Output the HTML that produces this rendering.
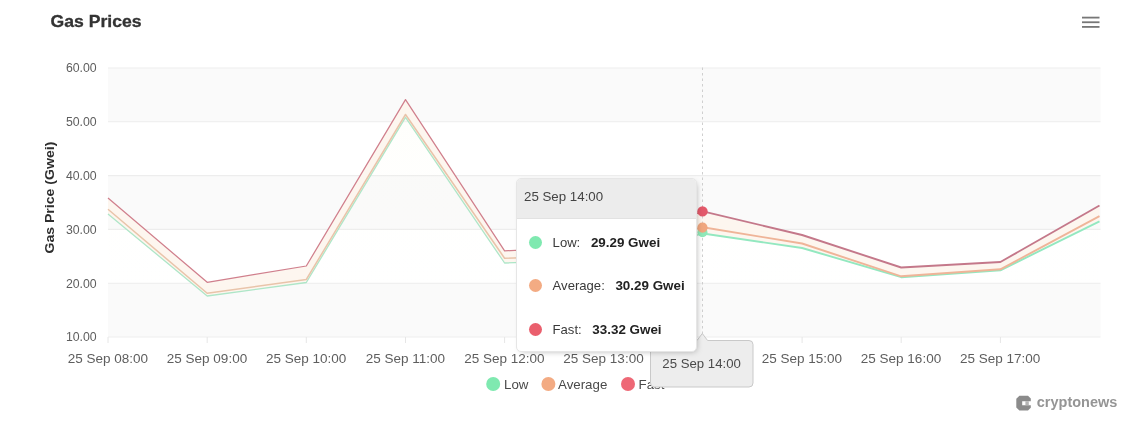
<!DOCTYPE html>
<html><head><meta charset="utf-8"><title>Gas Prices</title>
<style>
html,body{margin:0;padding:0;background:#fff;}
body{width:1140px;height:432px;position:relative;overflow:hidden;filter:blur(0.6px);font-family:"Liberation Sans",sans-serif;}
svg text{font-family:"Liberation Sans",sans-serif;}
.tip{position:absolute;left:516px;top:177.5px;width:181px;height:174.5px;background:#fff;border:1px solid #e6e6e6;border-radius:5px;box-shadow:2px 2px 6px -3px rgba(0,0,0,.35);box-sizing:border-box;overflow:hidden;color:#3a3a3a;font-size:13.1px;}
.tip .hd{height:39px;line-height:36px;background:#ececec;border-bottom:1px solid #e2e2e2;padding-left:7px;color:#444;font-size:13.3px;}
.tip .row{position:absolute;left:0;height:20px;line-height:20px;white-space:nowrap;}
.tip .dot{position:absolute;left:12px;top:3.5px;width:13px;height:13px;border-radius:50%;}
.tip .lb{position:absolute;left:35.6px;top:0;}
.tip b{font-weight:bold;color:#222;margin-left:7px;font-size:13.4px;}
</style></head><body>
<svg width="1140" height="432" viewBox="0 0 1140 432" style="position:absolute;left:0;top:0">
<defs><linearGradient id="gg" x1="0" y1="0" x2="0" y2="1"><stop offset="0" stop-color="#f6f3cf" stop-opacity="0.07"/><stop offset="1" stop-color="#ffffff" stop-opacity="0"/></linearGradient></defs>
<rect x="108.0" y="68.0" width="992.5" height="53.8" fill="#fafafa"/>
<rect x="108.0" y="175.6" width="992.5" height="53.8" fill="#fafafa"/>
<rect x="108.0" y="283.2" width="992.5" height="53.8" fill="#fafafa"/>
<line x1="108.0" x2="1100.5" y1="68.0" y2="68.0" stroke="#ededed" stroke-width="1.1"/>
<line x1="108.0" x2="1100.5" y1="121.8" y2="121.8" stroke="#ededed" stroke-width="1.1"/>
<line x1="108.0" x2="1100.5" y1="175.6" y2="175.6" stroke="#ededed" stroke-width="1.1"/>
<line x1="108.0" x2="1100.5" y1="229.4" y2="229.4" stroke="#ededed" stroke-width="1.1"/>
<line x1="108.0" x2="1100.5" y1="283.2" y2="283.2" stroke="#ededed" stroke-width="1.1"/>
<line x1="108.0" x2="1100.5" y1="337.0" y2="337.0" stroke="#ededed" stroke-width="1.1"/>
<line x1="108.0" x2="108.0" y1="337" y2="343" stroke="#e6e6e6" stroke-width="1"/>
<line x1="207.2" x2="207.2" y1="337" y2="343" stroke="#e6e6e6" stroke-width="1"/>
<line x1="306.3" x2="306.3" y1="337" y2="343" stroke="#e6e6e6" stroke-width="1"/>
<line x1="405.5" x2="405.5" y1="337" y2="343" stroke="#e6e6e6" stroke-width="1"/>
<line x1="504.6" x2="504.6" y1="337" y2="343" stroke="#e6e6e6" stroke-width="1"/>
<line x1="603.8" x2="603.8" y1="337" y2="343" stroke="#e6e6e6" stroke-width="1"/>
<line x1="702.9" x2="702.9" y1="337" y2="343" stroke="#e6e6e6" stroke-width="1"/>
<line x1="802.1" x2="802.1" y1="337" y2="343" stroke="#e6e6e6" stroke-width="1"/>
<line x1="901.2" x2="901.2" y1="337" y2="343" stroke="#e6e6e6" stroke-width="1"/>
<line x1="1000.4" x2="1000.4" y1="337" y2="343" stroke="#e6e6e6" stroke-width="1"/>
<text x="96.7" y="72.3" text-anchor="end" font-size="12.3" fill="#5e5e5e">60.00</text>
<text x="96.7" y="126.1" text-anchor="end" font-size="12.3" fill="#5e5e5e">50.00</text>
<text x="96.7" y="179.9" text-anchor="end" font-size="12.3" fill="#5e5e5e">40.00</text>
<text x="96.7" y="233.7" text-anchor="end" font-size="12.3" fill="#5e5e5e">30.00</text>
<text x="96.7" y="287.5" text-anchor="end" font-size="12.3" fill="#5e5e5e">20.00</text>
<text x="96.7" y="341.3" text-anchor="end" font-size="12.3" fill="#5e5e5e">10.00</text>
<text x="107.8" y="363" text-anchor="middle" font-size="13.5" fill="#5e5e5e">25 Sep 08:00</text>
<text x="207.0" y="363" text-anchor="middle" font-size="13.5" fill="#5e5e5e">25 Sep 09:00</text>
<text x="306.1" y="363" text-anchor="middle" font-size="13.5" fill="#5e5e5e">25 Sep 10:00</text>
<text x="405.3" y="363" text-anchor="middle" font-size="13.5" fill="#5e5e5e">25 Sep 11:00</text>
<text x="504.4" y="363" text-anchor="middle" font-size="13.5" fill="#5e5e5e">25 Sep 12:00</text>
<text x="603.5" y="363" text-anchor="middle" font-size="13.5" fill="#5e5e5e">25 Sep 13:00</text>
<text x="801.9" y="363" text-anchor="middle" font-size="13.5" fill="#5e5e5e">25 Sep 15:00</text>
<text x="901.0" y="363" text-anchor="middle" font-size="13.5" fill="#5e5e5e">25 Sep 16:00</text>
<text x="1000.1" y="363" text-anchor="middle" font-size="13.5" fill="#5e5e5e">25 Sep 17:00</text>
<polygon points="108.0,214.0 207.2,296.0 306.3,282.5 405.5,117.3 504.6,263.0 603.8,260.0 702.9,233.5 802.1,248.0 901.2,277.2 1000.4,270.3 1099.5,221.3 1099.5,337 108.0,337" fill="url(#gg)"/>
<polygon points="108.0,198.0 207.2,282.3 306.3,266.0 405.5,99.6 504.6,250.9 603.8,245.5 702.9,211.3 802.1,235.0 901.2,267.5 1000.4,262.0 1099.5,205.5 1099.5,221.3 1000.4,270.3 901.2,277.2 802.1,248.0 702.9,233.5 603.8,260.0 504.6,263.0 405.5,117.3 306.3,282.5 207.2,296.0 108.0,214.0" fill="#fdf6ef"/>
<polyline points="108.0,214.0 207.2,296.0 306.3,282.5 405.5,117.3 504.6,263.0 603.8,260.0 702.9,233.5" fill="none" stroke="#aee6c8" stroke-width="1.3" stroke-linejoin="round"/>
<polyline points="702.9,233.5 802.1,248.0 901.2,277.2 1000.4,270.3 1099.5,221.3" fill="none" stroke="#93e8c0" stroke-width="1.9" stroke-linejoin="round"/>
<polyline points="108.0,209.3 207.2,293.3 306.3,279.5 405.5,114.5 504.6,258.3 603.8,255.0 702.9,227.3" fill="none" stroke="#e9c4aa" stroke-width="1.5" stroke-linejoin="round"/>
<polyline points="702.9,227.3 802.1,243.5 901.2,276.3 1000.4,269.3 1099.5,216.2" fill="none" stroke="#efb498" stroke-width="1.9" stroke-linejoin="round"/>
<polyline points="108.0,198.0 207.2,282.3 306.3,266.0 405.5,99.6 504.6,250.9 603.8,245.5 702.9,211.3" fill="none" stroke="#d07f8c" stroke-width="1.25" stroke-linejoin="round"/>
<polyline points="702.9,211.3 802.1,235.0 901.2,267.5 1000.4,262.0 1099.5,205.5" fill="none" stroke="#c4788a" stroke-width="1.9" stroke-linejoin="round"/>
<line x1="702.5" x2="702.5" y1="67.5" y2="337" stroke="#cfcfcf" stroke-width="1" stroke-dasharray="2.5,3"/>
<circle cx="702.5" cy="232.2" r="5" fill="#8fe8b8"/>
<circle cx="702.5" cy="227.6" r="5.1" fill="#f0a67e"/>
<circle cx="702.5" cy="211.4" r="5.2" fill="#e3596a"/>
<text x="50.5" y="26.6" font-size="16.5" font-weight="bold" fill="#333" stroke="#333" stroke-width="0.3" textLength="91" lengthAdjust="spacingAndGlyphs">Gas Prices</text>
<text transform="translate(54.3,197.6) rotate(-90)" text-anchor="middle" font-size="12" font-weight="bold" fill="#2e2e2e" textLength="112" lengthAdjust="spacingAndGlyphs">Gas Price (Gwei)</text>
<rect x="1082" y="16.700000000000003" width="17.5" height="1.8" fill="#777"/>
<rect x="1082" y="21.35" width="17.5" height="1.8" fill="#777"/>
<rect x="1082" y="26.0" width="17.5" height="1.8" fill="#777"/>
<circle cx="493.2" cy="384" r="7" fill="#7fe9b0"/>
<text x="504" y="388.7" font-size="13.3" fill="#4a4a4a">Low</text>
<circle cx="548.4" cy="384" r="7" fill="#f3ab83"/>
<text x="558" y="388.7" font-size="13.3" fill="#4a4a4a">Average</text>
<circle cx="628" cy="384" r="7" fill="#ee6876"/>
<text x="638.6" y="388.7" font-size="13.3" fill="#4a4a4a">Fast</text>
<path d="M654.5 340.5 H697 L702.3 333.5 L707.6 340.5 H749 a4 4 0 0 1 4 4 V383 a4 4 0 0 1 -4 4 H654.5 a4 4 0 0 1 -4 -4 V344.5 a4 4 0 0 1 4 -4 Z" fill="#ededed" stroke="#c9c9c9" stroke-width="1"/>
<text x="701.6" y="368.3" text-anchor="middle" font-size="13.2" fill="#4a4a4a">25 Sep 14:00</text>
<g><path d="M1019.4 395.8 H1028 L1030.8 398.6 V401.2 H1022.2 V405.2 H1030.8 V407.8 L1028 410.6 H1019.4 L1016.3 407.6 V398.8 Z" fill="#8b8b8b"/><rect x="1025.4" y="401.2" width="3.4" height="4" fill="#b5b5b5"/></g>
<text x="1036.8" y="407.3" font-size="14" font-weight="bold" fill="#959595" textLength="80.5" lengthAdjust="spacingAndGlyphs">cryptonews</text>
</svg>
<div class="tip">
<div class="hd">25 Sep 14:00</div>
<div class="row" style="top:54px"><span class="dot" style="background:#7fe9b0"></span><span class="lb">Low: <b>29.29 Gwei</b></span></div>
<div class="row" style="top:97px"><span class="dot" style="background:#f3ab83"></span><span class="lb">Average: <b>30.29 Gwei</b></span></div>
<div class="row" style="top:141px"><span class="dot" style="background:#ea5f6d"></span><span class="lb">Fast: <b>33.32 Gwei</b></span></div>
</div>
</body></html>
